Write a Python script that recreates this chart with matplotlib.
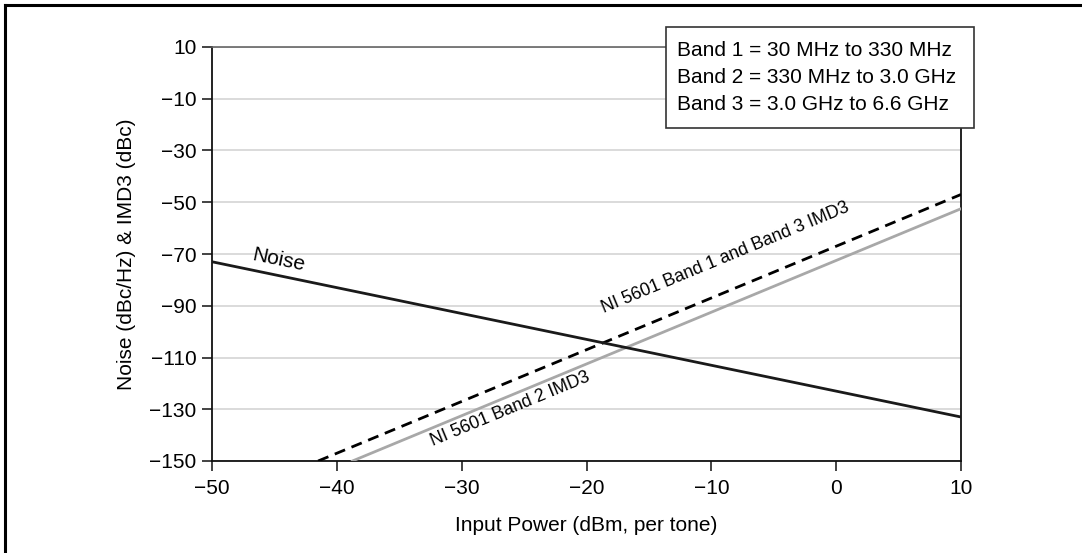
import numpy as np
import matplotlib.pyplot as plt
from matplotlib.lines import Line2D
from matplotlib.patches import Rectangle

plt.rcParams['font.family'] = ['Liberation Sans', 'DejaVu Sans']
plt.rcParams['axes.unicode_minus'] = True

# data
noise_x = [-50, 10]
noise_y = [-73, -133]
band13_x = [-41.5, 10]
band13_y = [-150, -47]
band2_x = [-38.75, 10]
band2_y = [-150, -52.5]
xticks = [-50, -40, -30, -20, -10, 0, 10]
yticks = [10, -10, -30, -50, -70, -90, -110, -130, -150]
legend_lines = ['Band 1 = 30 MHz to 330 MHz',
                'Band 2 = 330 MHz to 3.0 GHz',
                'Band 3 = 3.0 GHz to 6.6 GHz']

FS = 15
W, H = 1082, 553
fig = plt.figure(figsize=(W / 100, H / 100), dpi=100)
ax = fig.add_axes([212 / W, 1 - 461 / H, (961 - 212) / W, (461 - 47) / H])

ax.plot(band2_x, band2_y, color='#a8a8a8', lw=2, zorder=3)
ax.plot(band13_x, band13_y, color='black', lw=2, ls=(0, (4, 2.5)), zorder=3)
ax.plot(noise_x, noise_y, color='#1a1a1a', lw=2, zorder=4)

ax.set_xlim(-50, 10)
ax.set_ylim(-150, 10)
ax.set_xticks(xticks)
ax.set_yticks(yticks)
ax.set_xticklabels([str(t).replace('-', '\u2212') for t in xticks])
ax.set_yticklabels([str(t).replace('-', '\u2212') for t in yticks])
ax.yaxis.grid(True, color='#d4d4d4', lw=1.2)
ax.set_axisbelow(True)
ax.tick_params(direction='out', length=7, width=1.2, labelsize=FS, color='#222222')
ax.tick_params(axis='x', pad=6)
ax.tick_params(axis='y', pad=4)
for s in ['left', 'bottom', 'right']:
    ax.spines[s].set_linewidth(1.3)
    ax.spines[s].set_color('#111111')
ax.spines['top'].set_color('#666666')
ax.spines['top'].set_linewidth(1.2)

ax.set_xlabel('Input Power (dBm, per tone)', fontsize=FS, labelpad=13)
ax.set_ylabel('Noise (dBc/Hz) & IMD3 (dBc)', fontsize=FS, labelpad=10)


def angle_of(xs, ys):
    p = ax.transData.transform(np.column_stack([xs, ys]))
    return np.degrees(np.arctan2(p[1, 1] - p[0, 1], p[1, 0] - p[0, 0]))


fig.canvas.draw()
ax.text(-44.7, -72.5, 'Noise', fontsize=FS, rotation=angle_of(noise_x, noise_y),
        ha='center', va='center', rotation_mode='anchor')
ax.text(-8.9, -71.5, 'NI 5601 Band 1 and Band 3 IMD3', fontsize=12.8,
        rotation=angle_of(band13_x, band13_y), ha='center', va='center', rotation_mode='anchor')
ax.text(-26.1, -129.9, 'NI 5601 Band 2 IMD3', fontsize=12.8,
        rotation=angle_of(band2_x, band2_y), ha='center', va='center', rotation_mode='anchor')

# band legend box
fig.add_artist(Rectangle((666 / W, 1 - 128 / H), (974 - 666) / W, (128 - 27) / H,
                         transform=fig.transFigure, facecolor='white',
                         edgecolor='#333333', lw=1.2, zorder=5))
for i, t in enumerate(legend_lines):
    fig.text(677 / W, 1 - (50 + 27.5 * i) / H, t, fontsize=FS, ha='left', va='center', zorder=6)

# outer frame (left and top edges)
fig.add_artist(Line2D([5 / W, 1], [1 - 5 / H, 1 - 5 / H], transform=fig.transFigure, color='black', lw=2.2))
fig.add_artist(Line2D([5 / W, 5 / W], [0, 1 - 5 / H], transform=fig.transFigure, color='black', lw=2.2))

fig.savefig('out.png', dpi=100)
